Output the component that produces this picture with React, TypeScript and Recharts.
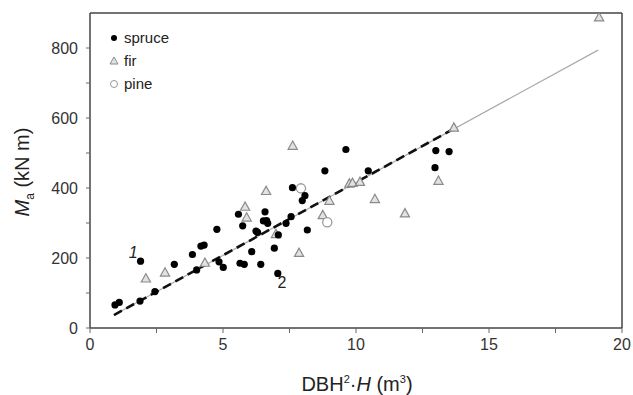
import React from 'react';
import { ScatterChart, Scatter, XAxis, YAxis, ReferenceLine } from 'recharts';

// x = DBH^2*H (m^3), y = Ma (kN m)
const spruce = [
  { x: 0.94, y: 66 }, { x: 1.1, y: 73 }, { x: 1.88, y: 77 }, { x: 1.9, y: 191 }, { x: 2.44, y: 104 },
  { x: 3.17, y: 182 }, { x: 3.85, y: 210 }, { x: 4.01, y: 166 }, { x: 4.17, y: 234 }, { x: 4.29, y: 237 },
  { x: 4.77, y: 282 }, { x: 4.85, y: 189 }, { x: 5.01, y: 173 }, { x: 5.58, y: 325 }, { x: 5.64, y: 185 },
  { x: 5.74, y: 292 }, { x: 5.8, y: 182 }, { x: 6.08, y: 218 }, { x: 6.24, y: 277 }, { x: 6.3, y: 273 },
  { x: 6.42, y: 182 }, { x: 6.52, y: 306 }, { x: 6.58, y: 332 }, { x: 6.64, y: 307 }, { x: 6.68, y: 299 },
  { x: 6.93, y: 228 }, { x: 7.08, y: 266 }, { x: 7.06, y: 156 }, { x: 7.37, y: 299 }, { x: 7.56, y: 318 },
  { x: 7.61, y: 401 }, { x: 7.98, y: 364 }, { x: 8.08, y: 378 }, { x: 8.17, y: 280 }, { x: 8.83, y: 449 },
  { x: 9.62, y: 510 }, { x: 10.46, y: 449 }, { x: 12.97, y: 458 }, { x: 13.0, y: 507 }, { x: 13.5, y: 504 },
];
const fir = [
  { x: 2.1, y: 142 }, { x: 2.82, y: 159 }, { x: 4.32, y: 187 }, { x: 5.83, y: 347 }, { x: 5.89, y: 316 },
  { x: 6.62, y: 392 }, { x: 6.99, y: 269 }, { x: 7.62, y: 521 }, { x: 7.86, y: 215 }, { x: 8.75, y: 323 },
  { x: 9.0, y: 364 }, { x: 9.75, y: 413 }, { x: 9.87, y: 415 }, { x: 10.15, y: 418 }, { x: 10.71, y: 369 },
  { x: 11.84, y: 328 }, { x: 13.1, y: 421 }, { x: 13.68, y: 573 }, { x: 19.14, y: 888 },
];
const pine = [{ x: 7.93, y: 399 }, { x: 8.92, y: 302 }];

const fitAll = [{ x: 0.9, y: 37 }, { x: 19.1, y: 794 }];
const fitSpruce = [{ x: 0.9, y: 37 }, { x: 13.6, y: 566 }];

const xTicks = [0, 2.5, 5, 7.5, 10, 12.5, 15, 17.5, 20];
const yTicks = [0, 100, 200, 300, 400, 500, 600, 700, 800];
const annotations = [{ x: 1.62, y: 217, text: '1' }, { x: 7.22, y: 129, text: '2' }];

const FONT = 'Arial, "Liberation Sans", Helvetica, sans-serif';

const DotShape = (p: any) => <circle cx={p.cx} cy={p.cy} r={3.6} fill="#000" />;
const TriShape = (p: any) => {
  const s = 4.6;
  return (
    <polygon
      points={`${p.cx},${p.cy - s} ${p.cx - s},${p.cy + s * 0.8} ${p.cx + s},${p.cy + s * 0.8}`}
      fill="#e2e2e2"
      stroke="#8a8a8a"
      strokeWidth={1.2}
    />
  );
};
const PineShape = (p: any) => <circle cx={p.cx} cy={p.cy} r={4.6} fill="#fff" stroke="#999" strokeWidth={1.3} />;
const NoShape = () => <g />;

export default function App() {
  return (
    <div style={{ position: 'absolute', left: 0, top: 0, width: 633, height: 395, background: '#fff', fontFamily: FONT }}>
      <ScatterChart width={633} height={395} margin={{ top: 13, right: 11, bottom: 37, left: 30 }}>
        <XAxis
          type="number"
          dataKey="x"
          domain={[0, 20]}
          ticks={xTicks}
          tickFormatter={(v: number) => (v % 5 === 0 ? String(v) : '')}
          height={30}
          tickSize={5}
          tickMargin={6}
          axisLine={{ stroke: '#444', strokeWidth: 1.5 }}
          tickLine={{ stroke: '#666' }}
          tick={{ fontSize: 16, fill: '#333', fontFamily: FONT }}
          allowDataOverflow
        />
        <YAxis
          type="number"
          dataKey="y"
          domain={[0, 900]}
          ticks={yTicks}
          tickFormatter={(v: number) => (v % 200 === 0 ? String(v) : '')}
          width={60}
          tickSize={4}
          tickMargin={8}
          axisLine={{ stroke: '#444', strokeWidth: 1.5 }}
          tickLine={{ stroke: '#666' }}
          tick={{ fontSize: 16, fill: '#333', fontFamily: FONT }}
          allowDataOverflow
        />
        <ReferenceLine y={900} stroke="#444" strokeWidth={1.5} ifOverflow="visible" />
        <ReferenceLine x={20} stroke="#444" strokeWidth={1.5} ifOverflow="visible" />
        <Scatter data={fitAll} line={{ stroke: '#aaa', strokeWidth: 1.2 }} shape={NoShape} isAnimationActive={false} />
        <Scatter
          data={fitSpruce}
          line={{ stroke: '#111', strokeWidth: 2.6, strokeDasharray: '9 5' }}
          shape={NoShape}
          isAnimationActive={false}
        />
        <Scatter data={fir} shape={TriShape} isAnimationActive={false} />
        <Scatter data={pine} shape={PineShape} isAnimationActive={false} />
        <Scatter data={spruce} shape={DotShape} isAnimationActive={false} />
        <Scatter
          data={annotations}
          isAnimationActive={false}
          shape={(p: any) => (
            <text x={p.cx} y={p.cy} textAnchor="middle" dominantBaseline="central" fontSize={16} fontStyle={p.payload.text === '1' ? 'italic' : 'normal'} fill="#222" fontFamily={FONT}>
              {p.payload.text}
            </text>
          )}
        />
      </ScatterChart>

      {/* Legend */}
      <div style={{ position: 'absolute', left: 107, top: 26, fontSize: 15, color: '#222', lineHeight: '23px' }}>
        {[
          { name: 'spruce', icon: <circle cx={7} cy={7} r={3} fill="#000" /> },
          { name: 'fir', icon: <polygon points="7,3 3,10 11,10" fill="#e2e2e2" stroke="#8a8a8a" strokeWidth={1} /> },
          { name: 'pine', icon: <circle cx={7} cy={7} r={3.5} fill="#fff" stroke="#999" strokeWidth={1} /> },
        ].map((it) => (
          <div key={it.name} style={{ display: 'flex', alignItems: 'center', height: 23 }}>
            <svg width={14} height={14} style={{ marginRight: 3 }}>{it.icon}</svg>
            <span>{it.name}</span>
          </div>
        ))}
      </div>

      {/* Y axis title */}
      <div
        style={{
          position: 'absolute',
          left: 24,
          top: 172,
          transform: 'translate(-50%, -50%) rotate(-90deg)',
          whiteSpace: 'nowrap',
          fontSize: 20,
          color: '#222',
        }}
      >
        <i>M</i>
        <sub style={{ fontSize: 12 }}>a</sub> (kN m)
      </div>

      {/* X axis title */}
      <div
        style={{
          position: 'absolute',
          left: 357,
          top: 384,
          transform: 'translate(-50%, -50%)',
          whiteSpace: 'nowrap',
          fontSize: 20,
          color: '#222',
        }}
      >
        DBH<sup style={{ fontSize: 11 }}>2</sup>·<i>H</i> (m<sup style={{ fontSize: 11 }}>3</sup>)
      </div>
    </div>
  );
}
